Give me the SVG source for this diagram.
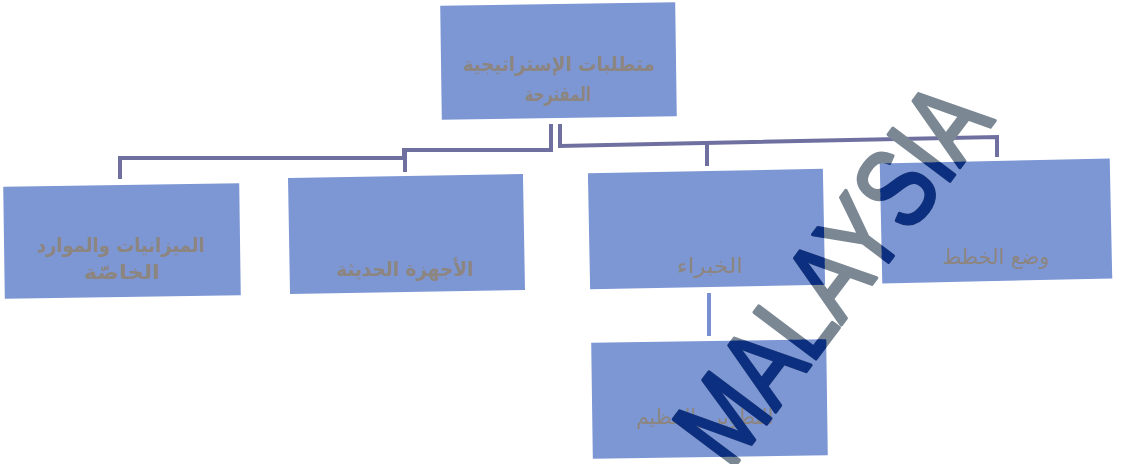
<svg xmlns="http://www.w3.org/2000/svg" width="1124" height="464" viewBox="0 0 1124 464">
<style>
.box{fill:#7d97d5;}
.lbl{font-family:"DejaVu Sans",sans-serif;font-size:20px;font-weight:bold;fill:#8d857f;text-anchor:middle;}
.n{font-weight:normal;font-size:21px;}
.con{fill:none;stroke:#6f709f;stroke-width:4;}
.con2{fill:none;stroke:#7a8fd2;stroke-width:4;}
.wm{font-family:"Liberation Sans",Arial,sans-serif;font-size:112px;text-anchor:middle;stroke-width:3.5;stroke-linejoin:round;}
</style>
<defs>
<clipPath id="boxclip">
<rect x="441" y="4" width="235" height="114" transform="rotate(-0.8 558 61)"/>
<rect x="4" y="185" width="236" height="112" transform="rotate(-0.8 122 241)"/>
<rect x="289" y="176" width="235" height="116" transform="rotate(-1 406 234)"/>
<rect x="589" y="171" width="235" height="116" transform="rotate(-1.1 706 229)"/>
<rect x="881" y="161" width="230" height="120" transform="rotate(-1.2 996 221)"/>
<rect x="592" y="341" width="235" height="116" transform="rotate(-0.8 709 399)"/>
</clipPath>
<text id="wmtext" class="wm" x="0" y="0" textLength="440" lengthAdjust="spacingAndGlyphs" transform="translate(863,296) rotate(-53)">MALAYSIA</text>
</defs>
<rect width="1124" height="464" fill="#ffffff"/>
<g id="connectors">
<path class="con" d="M120,179 V158 H404 V150 H551 V124"/>
<path class="con" d="M405,150 V172"/>
<path class="con" d="M560,124 V146 L997,137 V157"/>
<path class="con" d="M707,144 V166"/>
<path class="con2" d="M709,293 V336"/>
</g>
<g id="n0">
<rect class="box" x="441" y="4" width="235" height="114" transform="rotate(-0.8 558 61)"/>
<text class="lbl" x="559" y="71" textLength="192" lengthAdjust="spacingAndGlyphs">متطلبات الإستراتيجية</text>
<text class="lbl" x="558" y="101" textLength="66" lengthAdjust="spacingAndGlyphs">المقترحة</text>
</g>
<g id="n1">
<rect class="box" x="4" y="185" width="236" height="112" transform="rotate(-0.8 122 241)"/>
<text class="lbl" x="121" y="252" textLength="168" lengthAdjust="spacingAndGlyphs">الميزانيات والموارد</text>
<text class="lbl" x="122" y="279" textLength="76" lengthAdjust="spacingAndGlyphs">الخاصّة</text>
</g>
<g id="n2">
<rect class="box" x="289" y="176" width="235" height="116" transform="rotate(-1 406 234)"/>
<text class="lbl" x="405" y="276" textLength="137" lengthAdjust="spacingAndGlyphs">الأجهزة الحديثة</text>
</g>
<g id="n3">
<rect class="box" x="589" y="171" width="235" height="116" transform="rotate(-1.1 706 229)"/>
<text class="lbl n" x="710" y="273" textLength="66" lengthAdjust="spacingAndGlyphs">الخبراء</text>
</g>
<g id="n4">
<rect class="box" x="881" y="161" width="230" height="120" transform="rotate(-1.2 996 221)"/>
<text class="lbl n" x="996" y="264" textLength="107" lengthAdjust="spacingAndGlyphs">وضع الخطط</text>
</g>
<g id="n5">
<rect class="box" x="592" y="341" width="235" height="116" transform="rotate(-0.8 709 399)"/>
<text class="lbl n" x="705" y="424" textLength="137" lengthAdjust="spacingAndGlyphs">التطوير والتنظيم</text>
</g>
<g id="watermark">
<use href="#wmtext" fill="#7b8894" stroke="#7b8894"/>
<g clip-path="url(#boxclip)"><use href="#wmtext" fill="#0c2f80" stroke="#0c2f80"/></g>
</g>
</svg>
